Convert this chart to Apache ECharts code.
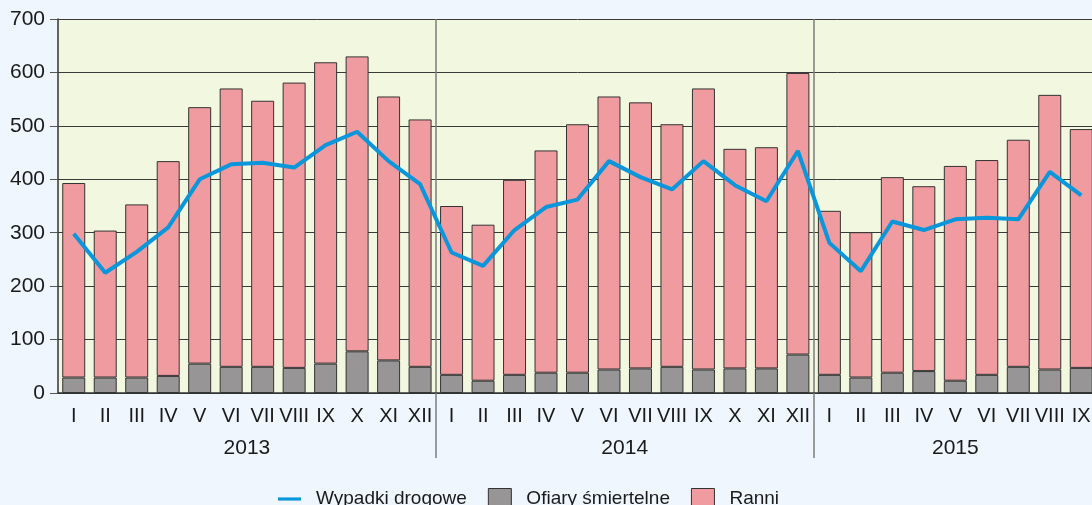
<!DOCTYPE html>
<html>
<head>
<meta charset="utf-8">
<script src="https://cdn.jsdelivr.net/npm/echarts@6/dist/echarts.min.js"></script>
<style>
html,body{margin:0;padding:0;background:#eff6fd;overflow:hidden;}
#c{width:1100px;height:505px;}
</style>
</head>
<body>
<div id="c"></div>
<script>
const months = ['I','II','III','IV','V','VI','VII','VIII','IX','X','XI','XII',
                'I','II','III','IV','V','VI','VII','VIII','IX','X','XI','XII',
                'I','II','III','IV','V','VI','VII','VIII','IX'];
const years = ['2013','2014','2015'];
const wypadki = [298,225,264,310,400,428,431,422,464,489,434,391,
                 263,238,305,348,362,434,404,381,434,389,359,453,
                 281,228,321,305,325,328,325,414,370];
const ofiary = [29,29,29,32,55,49,49,47,55,78,61,49,
                34,23,34,38,38,44,46,49,44,46,46,72,
                34,29,38,41,23,34,49,44,47];
const ranni = [364,275,324,402,480,521,498,534,564,552,494,463,
               316,292,365,416,465,511,498,454,526,411,414,527,
               307,272,366,346,402,402,425,514,447];
const yTicks = [0,100,200,300,400,500,600,700];

// half-month positions for year labels / separators (boundaryGap false)
const halfSlots = [];
for (let k = 0; k <= months.length * 2; k++) halfSlots.push('');
halfSlots[12] = years[0];
halfSlots[36] = years[1];
halfSlots[57] = years[2];
const sepIdx = [24, 48];

const font = '"Liberation Sans", Arial, sans-serif';
const chart = echarts.init(document.getElementById('c'));
chart.setOption({
  backgroundColor: '#eff6fd',
  animation: false,
  textStyle: {fontFamily: font},
  grid: {left: 58, right: 0, top: 19, bottom: 112, show: true,
         backgroundColor: '#f2f7e0', borderWidth: 0},
  legend: {
    left: 273, top: 483,
    itemWidth: 23, itemHeight: 21, itemGap: 21,
    textStyle: {fontFamily: font, fontSize: 19, color: '#1a1a1a', padding: [0,0,0,10]},
    data: [
      {name: 'Wypadki drogowe', icon: 'path://M0,0 L29,0 L29,4 L0,4 Z',
       itemStyle: {color: '#0a96db', borderWidth: 0}},
      {name: 'Ofiary śmiertelne', icon: 'rect', itemStyle: {borderColor: '#333', borderWidth: 1}},
      {name: 'Ranni', icon: 'rect', itemStyle: {borderColor: '#333', borderWidth: 1}}
    ]
  },
  xAxis: [
    {
      type: 'category', data: months, boundaryGap: true,
      axisLine: {show: true, lineStyle: {color: '#333', width: 1.5}},
      axisTick: {show: false},
      axisLabel: {interval: 0, margin: 13, fontSize: 20, color: '#1a1a1a', fontFamily: font},
      splitLine: {show: false}
    },
    {
      type: 'category', data: halfSlots, boundaryGap: false, position: 'bottom',
      axisLine: {show: false},
      axisTick: {show: true, length: 65, interval: (i) => sepIdx.includes(i),
                 lineStyle: {color: '#7d7d7d', width: 1.5}},
      axisLabel: {interval: 0, margin: 45, fontSize: 21, color: '#1a1a1a', fontFamily: font},
      splitLine: {show: true, interval: (i) => sepIdx.includes(i),
                  lineStyle: {color: '#7d7d7d', width: 1.5}}
    }
  ],
  yAxis: {
    type: 'value', min: yTicks[0], max: yTicks[yTicks.length-1], interval: 100,
    axisLine: {show: true, lineStyle: {color: '#333', width: 1.5}},
    axisTick: {show: true, length: 8, lineStyle: {color: '#555'}},
    axisLabel: {margin: 13, fontSize: 21, color: '#1a1a1a', fontFamily: font},
    splitLine: {show: true, lineStyle: {color: '#3a3a3a', width: 1}}
  },
  series: [
    {
      name: 'Ofiary śmiertelne', type: 'bar', stack: 't', xAxisIndex: 0,
      data: ofiary, barCategoryGap: '27%',
      itemStyle: {color: '#979595', borderColor: '#333', borderWidth: 1}
    },
    {
      name: 'Ranni', type: 'bar', stack: 't', xAxisIndex: 0,
      data: ranni, barCategoryGap: '27%',
      itemStyle: {color: '#f09ba0', borderColor: '#333', borderWidth: 1}
    },
    {
      name: 'Wypadki drogowe', type: 'line', xAxisIndex: 0, data: wypadki,
      symbol: 'none', z: 5,
      lineStyle: {color: '#0a96db', width: 4},
      itemStyle: {color: '#0a96db'}
    }
  ]
});
</script>
</body>
</html>
